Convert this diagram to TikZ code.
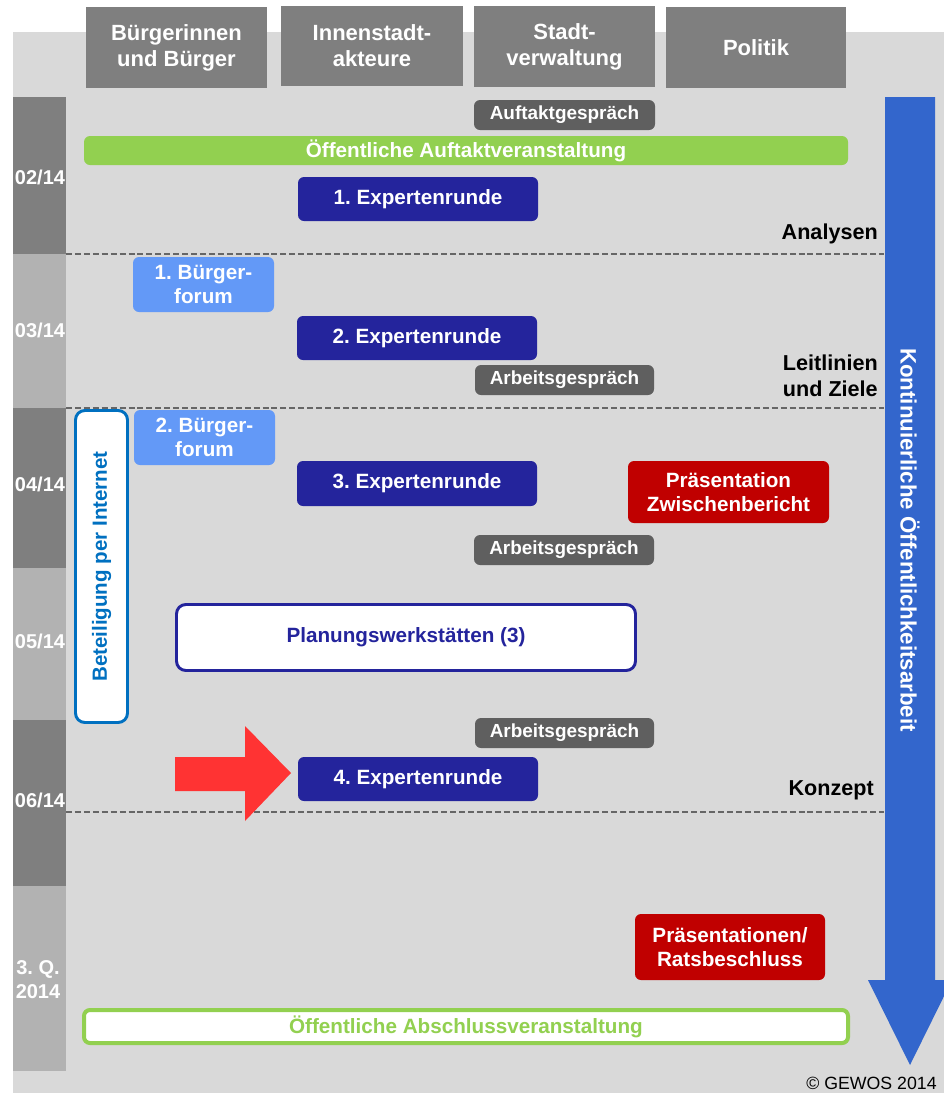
\documentclass[tikz,border=0pt]{standalone}
\usepackage{fontspec}
\setmainfont{Liberation Sans}
\frenchspacing
\definecolor{bggray}{HTML}{D9D9D9}
\definecolor{hdrgray}{HTML}{7F7F7F}
\definecolor{mlight}{HTML}{B2B2B2}
\definecolor{talkgray}{HTML}{5F5F5F}
\definecolor{dashgray}{HTML}{666666}
\definecolor{grn}{HTML}{92D050}
\definecolor{navy}{HTML}{24249C}
\definecolor{lblue}{HTML}{6399F7}
\definecolor{dred}{HTML}{C00000}
\definecolor{barblue}{HTML}{3366CC}
\definecolor{arrred}{HTML}{FF3333}
\definecolor{webblue}{HTML}{0070C0}
\begin{document}
\begin{tikzpicture}[x=0.75pt,y=-0.75pt,
  bx/.style n args={4}{at={({(#1+#3)/2},{(#2+#4)/2})},
    minimum width={(#3-#1)*0.75pt}, minimum height={(#4-#2)*0.75pt}},
  hdr/.style={fill=hdrgray, inner sep=0pt, text=white, align=center,
    font=\bfseries\fontsize{16.5}{19.5}\selectfont},
  month/.style={inner sep=0pt, text=white, align=center,
    font=\bfseries\fontsize{15}{18}\selectfont},
  fbox/.style={inner sep=0pt, rounded corners=4.5pt, text=white, align=center,
    font=\bfseries\fontsize{15.5}{18.5}\selectfont},
  navybox/.style={fbox, fill=navy},
  lbbox/.style={fbox, fill=lblue},
  redbox/.style={fbox, fill=dred},
  talkbox/.style={fbox, fill=talkgray, font=\bfseries\fontsize{14.2}{17}\selectfont},
  greenbar/.style={fbox, fill=grn},
  endbox/.style={fbox, fill=white, draw=grn, line width=3pt, text=grn},
  planbox/.style={fbox, fill=white, draw=navy, line width=2.2pt, text=navy, rounded corners=7pt},
  webbox/.style={fbox, fill=white, draw=webblue, line width=2.2pt, rounded corners=7pt},
  phase/.style={inner sep=0pt, text=black, font=\bfseries\fontsize{16.2}{19.5}\selectfont},
  sepline/.style={draw=dashgray, line width=1.5pt, dash pattern=on 4.5pt off 2.2pt},
]
\useasboundingbox (0,0) rectangle (944,1093);
\clip (0,0) rectangle (944,1093);
% background
\fill[bggray] (13,32) rectangle (944,1093);

% header boxes
\node[hdr, bx={86}{7}{267}{88}] (h1) {Bürgerinnen\\und Bürger};
\node[hdr, bx={281}{6}{463}{86}] (h2) {Innenstadt-\\akteure};
\node[hdr, bx={474}{6}{655}{87}] (h3) {Stadt-\\verwaltung};
\node[hdr, bx={666}{7}{846}{88}] (h4) {Politik};

% month column
\node[month, fill=hdrgray, bx={13}{97}{66}{254}] (m1) {};
\node[month, fill=mlight, bx={13}{254}{66}{408}] (m2) {};
\node[month, fill=hdrgray, bx={13}{408}{66}{568}] (m3) {};
\node[month, fill=mlight, bx={13}{568}{66}{720}] (m4) {};
\node[month, fill=hdrgray, bx={13}{720}{66}{886}] (m5) {};
\node[month, fill=mlight, bx={13}{886}{66}{1071}] (m6) {};
\node[month] at (40,177) (t1) {02/14};
\node[month] at (40,330) (t2) {03/14};
\node[month] at (40,484) (t3) {04/14};
\node[month] at (40,641) (t4) {05/14};
\node[month] at (40,800) (t5) {06/14};
\node[month] at (38,980) (t6) {3. Q.\\2014};

% separators
\coordinate (s1a) at (66,254); \coordinate (s1b) at (884,254);
\coordinate (s2a) at (66,408); \coordinate (s2b) at (884,408);
\coordinate (s3a) at (66,812); \coordinate (s3b) at (884,812);
\draw[sepline] (s1a) -- (s1b);
\draw[sepline] (s2a) -- (s2b);
\draw[sepline] (s3a) -- (s3b);

% blue arrow
\fill[barblue] (885,97) -- (935,97) -- (935,980) -- (952,980) -- (910,1065)
  -- (868,980) -- (885,980) -- cycle;
\node[rotate=-90, text=white, inner sep=0pt, font=\bfseries\fontsize{16.7}{20}\selectfont]
  at (910,540) (koa) {Kontinuierliche Öffentlichkeitsarbeit};

% events
\node[talkbox, bx={474}{100}{655}{130}] (ag) {Auftaktgespräch};
\node[greenbar, bx={84}{136}{848}{165}] (auf) {Öffentliche Auftaktveranstaltung};
\node[navybox, bx={298}{177}{538}{221}] (x1) {1. Expertenrunde};
\node[phase, anchor=east] at (878,234) (an) {Analysen};

\node[lbbox, bx={133}{257}{274}{312}] (b1) {1. Bürger-\\forum};
\node[navybox, bx={297}{316}{537}{360}] (x2) {2. Expertenrunde};
\node[talkbox, bx={475}{365}{654}{395}] (a1) {Arbeitsgespräch};
\node[phase, anchor=east, align=left] at (878,376) (ll) {Leitlinien\\und Ziele};

\node[webbox, bx={75.5}{410.5}{127.5}{722.5}] (web) {};
\node[rotate=90, text=webblue, inner sep=0pt, font=\bfseries\fontsize{15.4}{18}\selectfont]
  at (web.center) (webt) {Beteiligung per Internet};
\node[lbbox, bx={134}{410}{275}{465}] (b2) {2. Bürger-\\forum};
\node[navybox, bx={297}{461}{537}{506}] (x3) {3. Expertenrunde};
\node[redbox, bx={628}{461}{829}{523}] (pz) {Präsentation\\Zwischenbericht};
\node[talkbox, bx={474}{535}{654}{565}] (a2) {Arbeitsgespräch};

\node[planbox, bx={176.5}{604.5}{635.5}{670.5}] (pw) {Planungswerkstätten (3)};

\node[talkbox, bx={475}{718}{654}{748}] (a3) {Arbeitsgespräch};
\node[navybox, bx={298}{757}{538}{801}] (x4) {4. Expertenrunde};
\node[phase, anchor=east] at (874,790) (kz) {Konzept};

% red arrow
\fill[arrred] (175,757) -- (245,757) -- (245,726) -- (291,773) -- (245,821)
  -- (245,791) -- (175,791) -- cycle;

\node[redbox, bx={635}{914}{825}{980}] (pr) {Präsentationen/\\Ratsbeschluss};
\node[endbox, bx={84}{1010}{848}{1043}] (ab) {Öffentliche Abschlussveranstaltung};

\node[anchor=base west, inner sep=0pt, text=black, font=\fontsize{13.3}{16}\selectfont]
  at (806,1089) (cp) {© GEWOS 2014};
\end{tikzpicture}
\end{document}
